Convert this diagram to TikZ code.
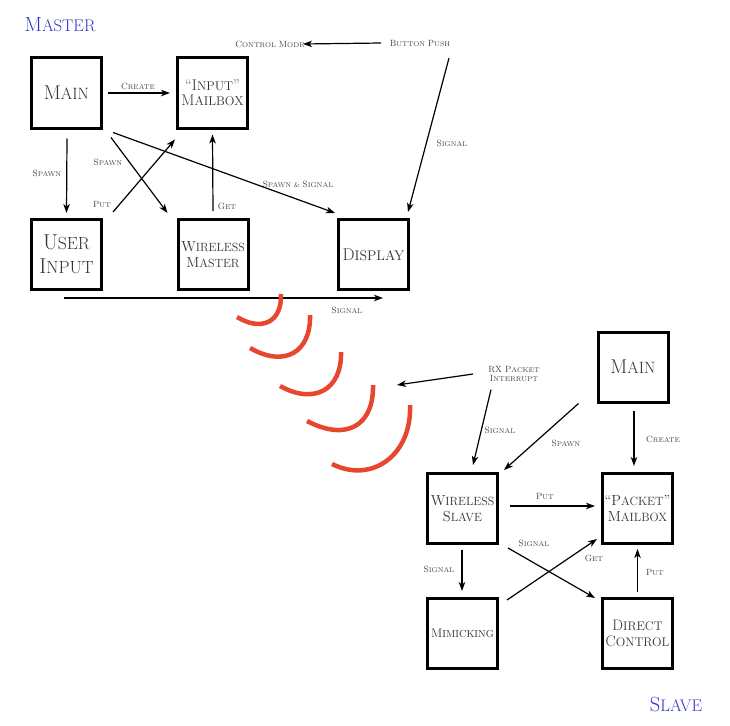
\documentclass[tikz,border=0pt]{standalone}
\usetikzlibrary{arrows.meta}
\definecolor{wave}{HTML}{E8472F}
\definecolor{ttl}{HTML}{3434C8}
\definecolor{boxtext}{HTML}{333333}
\definecolor{lbltext}{HTML}{444444}
\newcommand\tcA{}
\newcommand\tcB{}
\newcommand\tword[2]{{\tcA #1}{\tcB #2}}
\begin{document}
\begin{tikzpicture}[x=1pt,y=-1pt,
  box/.style={draw, line width=3pt, minimum width=70pt, minimum height=70pt, inner sep=0pt, align=center, text=boxtext},
  tsize/.style n args={3}{font={\renewcommand\tcA{\fontsize{#1}{#3}\selectfont}\renewcommand\tcB{\fontsize{#2}{#3}\selectfont}\fontsize{#1}{#3}\selectfont}},
  lbl/.style={tsize={9}{6.9}{8.5}, text=lbltext, inner sep=0pt, align=center},
  ttlstyle/.style={tsize={20.5}{16.8}{22}, text=ttl, inner sep=0pt},
  arr/.style={-{Stealth[length=9pt,width=6.5pt,inset=2.5pt]}, line width=1.2pt},
  wavestyle/.style={draw=wave, line width=4.5pt}]
\useasboundingbox (0,0) rectangle (730,725);

% titles
\node[ttlstyle] (master) at (60,25) {\tword{M}{ASTER}};
\node[ttlstyle] (slave) at (676,704) {\tword{S}{LAVE}};

% master boxes
\node[box,tsize={20}{16.4}{23}] (mmain) at (66.5,93) {\tword{M}{AIN}};
\node[box,tsize={15.5}{12.7}{15.5}] (inmb) at (212.5,93) {\tcA``\tword{I}{NPUT}\tcA''\\\tword{M}{AILBOX}};
\node[box,tsize={21.5}{17.6}{24}] (uinp) at (66.5,254.5) {\tword{U}{SER}\\\tword{I}{NPUT}};
\node[box,tsize={14.5}{11.9}{16}] (wmas) at (213,254.5) {\tword{W}{IRELESS}\\\tword{M}{ASTER}};
\node[box,tsize={17}{14}{20}] (disp) at (373.5,254.5) {\tword{D}{ISPLAY}};

% slave boxes
\node[box,tsize={20}{16.4}{23}] (smain) at (633,367) {\tword{M}{AIN}};
\node[box,tsize={14.5}{11.9}{16}] (wsl) at (462.5,508.5) {\tword{W}{IRELESS}\\\tword{S}{LAVE}};
\node[box,tsize={14.6}{12}{15.5}] (pmb) at (637.5,508.5) {\tcA``\tword{P}{ACKET}\tcA''\\\tword{M}{AILBOX}};
\node[box,tsize={12.5}{10.25}{14}] (mim) at (462.5,633.5) {\tword{M}{IMICKING}};
\node[box,tsize={15.2}{12.5}{16}] (dc) at (637.5,633.5) {\tword{D}{IRECT}\\\tword{C}{ONTROL}};

% labels
\node[lbl] (lcreate) at (138,86) {\tword{C}{REATE}};
\node[lbl] (lspawna) at (47,173) {\tword{S}{PAWN}};
\node[lbl] (lspawnb) at (108,162) {\tword{S}{PAWN}};
\node[lbl] (lputa) at (102,204) {\tword{P}{UT}};
\node[lbl] (lgeta) at (227,206) {\tword{G}{ET}};
\node[lbl] (lspsig) at (298,184) {\tword{S}{PAWN \& }\tword{S}{IGNAL}};
\node[lbl] (lsigbot) at (347,310) {\tword{S}{IGNAL}};
\node[lbl] (ctl) at (270,44) {\tword{C}{ONTROL }\tword{M}{ODE}};
\node[lbl] (btn) at (420,43) {\tword{B}{UTTON }\tword{P}{USH}};
\node[lbl] (lsigr) at (452,143) {\tword{S}{IGNAL}};
\node[lbl] (rx) at (514,374) {\tword{RX P}{ACKET}\\\tword{I}{NTERRUPT}};
\node[lbl] (lsigs) at (500,430) {\tword{S}{IGNAL}};
\node[lbl] (lspawns) at (566,443) {\tword{S}{PAWN}};
\node[lbl] (lcreates) at (663,439) {\tword{C}{REATE}};
\node[lbl] (lputs) at (545,496) {\tword{P}{UT}};
\node[lbl] (lsigx) at (534,543) {\tword{S}{IGNAL}};
\node[lbl] (lgets) at (594,558) {\tword{G}{ET}};
\node[lbl] (lputdc) at (655,572) {\tword{P}{UT}};
\node[lbl] (lsigm) at (439,569) {\tword{S}{IGNAL}};

% free ends
\coordinate (sigstart) at ([xshift=-2.5pt,yshift=-7pt]uinp.south);
\coordinate (sigend) at ([xshift=9.5pt,yshift=-7pt]disp.south);
\coordinate (rxend) at (397,385);
\coordinate (btnstart) at (449,58);
\coordinate (ctlend) at (303,44);
\coordinate (btnarr) at (381,43);

% master arrows
\draw[arr] ([xshift=5pt]mmain.east) -- ([xshift=-6pt]inmb.west);
\draw[arr] ([xshift=0.5pt,yshift=-9pt]mmain.south) -- ([yshift=5pt]uinp.north);
\draw[arr] ([xshift=8pt,yshift=-8pt]mmain.south east) -- ([xshift=-9pt,yshift=5pt]wmas.north west);
\draw[arr] ([xshift=10pt,yshift=6pt]uinp.north east) -- ([xshift=-1pt,yshift=-10pt]inmb.south west);
\draw[arr] ([yshift=7pt]wmas.north) -- ([yshift=-5pt]inmb.south);
\draw[arr] ([xshift=10pt,yshift=-3pt]mmain.south east) -- ([xshift=-2pt,yshift=5pt]disp.north west);
\draw[arr] (sigstart) -- (sigend);
\draw[arr] (btnarr) -- (ctlend);
\draw[arr] (btnstart) -- ([xshift=-2pt,yshift=6pt]disp.north east);

% slave arrows
\draw[arr] ([xshift=-15pt]rx.west) -- (rxend);
\draw[arr] ([xshift=-23pt,yshift=-8pt]rx.south) -- ([xshift=10.5pt,yshift=7pt]wsl.north);
\draw[arr] ([xshift=-18pt]smain.south west) -- ([xshift=5pt,yshift=2pt]wsl.north east);
\draw[arr] ([xshift=1pt,yshift=-7pt]smain.south) -- ([xshift=-3.5pt,yshift=6pt]pmb.north);
\draw[arr] ([xshift=11pt,yshift=2.5pt]wsl.east) -- ([xshift=-6pt,yshift=2.5pt]pmb.west);
\draw[arr] ([xshift=9pt,yshift=-3pt]wsl.south east) -- ([xshift=-6pt,yshift=-1pt]dc.north west);
\draw[arr] ([xshift=8pt,yshift=-3pt]mim.north east) -- ([xshift=-4pt,yshift=6pt]pmb.south west);
\draw[arr] ([yshift=5pt]dc.north) -- ([yshift=-4pt]pmb.south);
\draw[arr] ([xshift=-0.5pt,yshift=-5pt]wsl.south) -- ([xshift=-0.5pt,yshift=6pt]mim.north);

% radio waves
\draw[wavestyle] (281,294) .. controls (282,322) and (262,332) .. (237,317);
\draw[wavestyle] (310,315) .. controls (311,352) and (285,368) .. (250,348);
\draw[wavestyle] (341,352) .. controls (342,390) and (314,405) .. (280,386);
\draw[wavestyle] (373,385) .. controls (374,425) and (347,442) .. (307,421);
\draw[wavestyle] (410,405) .. controls (412,455) and (372,484) .. (332,464);
\end{tikzpicture}
\end{document}
